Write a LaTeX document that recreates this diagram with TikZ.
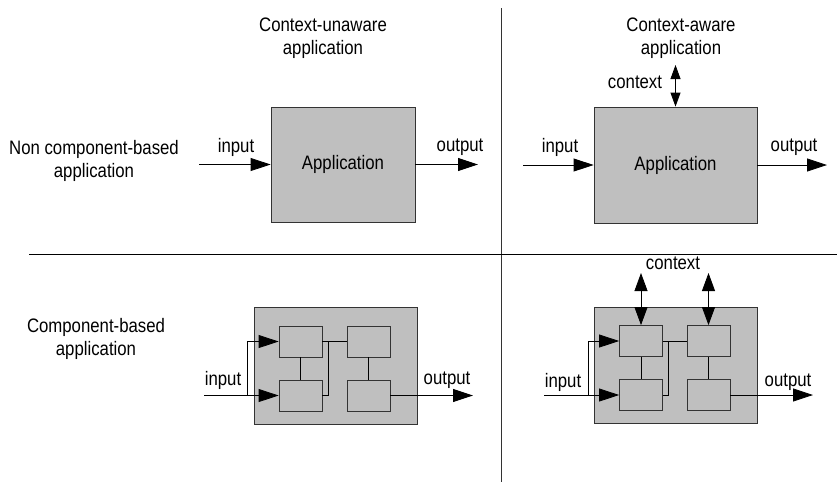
\documentclass[tikz,border=0pt]{standalone}
\usepackage{fontspec}
\setmainfont{Liberation Sans}[FakeStretch=0.86]
\usetikzlibrary{arrows.meta}
\tikzset{
  every node/.style={font=\fontsize{19.5}{23}\selectfont},
  bigbox/.style={draw=black!80, fill=black!25, line width=0.8pt, rectangle, inner sep=0pt},
  smallbox/.style={draw=black!80, fill=black!25, line width=0.8pt, rectangle, inner sep=0pt, minimum width=43pt, minimum height=31pt},
  conn/.style={draw=black, line width=0.8pt},
  arr/.style={conn, -{Triangle[length=20pt,width=13pt]}},
  ctxsmall/.style={conn, {Triangle[length=14pt,width=10pt]}-{Triangle[length=14pt,width=10pt]}},
  ctxbig/.style={conn, {Triangle[length=18pt,width=13pt]}-{Triangle[length=18pt,width=13pt]}},
  lbl/.style={inner sep=0pt, align=center},
  divider/.style={line width=1pt}
}
\begin{document}
\begin{tikzpicture}[x=1pt,y=-1pt]
\useasboundingbox (0,0) rectangle (837,483);
% dividers
\coordinate (vt) at (501,8);
\coordinate (vb) at (501,482);
\coordinate (hl) at (29,254);
\coordinate (hr) at (837,254);
\draw[divider, black!80] (vt) -- (vb);
\draw[divider] (hl) -- (hr);
% headings
\node[lbl] (h1) at (323,38) {Context-unaware\\application};
\node[lbl] (h2) at (681,38) {Context-aware\\application};
\node[lbl] (r1) at (94,161) {Non component-based\\application};
\node[lbl] (r2) at (96,339) {Component-based\\application};

% top-left
\node[bigbox, minimum width=144pt, minimum height=115pt] (app1) at (343,164.5) {Application};
\coordinate (in1) at (199,164.5);
\coordinate (out1) at (478,164.5);
\draw[arr] (in1) -- (app1.west);
\draw[arr] (app1.east) -- (out1);
\node[lbl] (li1) at (236,147) {input};
\node[lbl] (lo1) at (460,147) {output};

% top-right
\node[bigbox, minimum width=163pt, minimum height=116pt] (app2) at (675.5,165) {Application};
\coordinate (in2) at (523,165);
\coordinate (out2) at (827,165);
\coordinate (ctx2) at (675.5,65);
\draw[arr] (in2) -- (app2.west);
\draw[arr] (app2.east) -- (out2);
\draw[ctxsmall] (ctx2) -- (app2.north);
\node[lbl] (li2) at (560,147) {input};
\node[lbl] (lo2) at (794,147) {output};
\node[lbl] (lc2) at (635,82) {context};

% bottom-left
\node[bigbox, minimum width=163pt, minimum height=117pt] (big1) at (335.5,365.5) {};
\node[smallbox] (tl1) at (300.5,341.5) {};
\node[smallbox] (bl1) at (300.5,395.5) {};
\node[smallbox] (tr1) at (368.5,341.5) {};
\node[smallbox] (br1) at (368.5,395.5) {};
\coordinate (in3) at (204,395.5);
\coordinate (br3) at (247,395.5);
\coordinate (jn3) at (328,341.5);
\coordinate (out3) at (473,395.5);
\draw[arr] (in3) -- (bl1.west);
\draw[arr] (br3) |- (tl1.west);
\draw[conn] (tl1.east) -- (tr1.west);
\draw[conn] (bl1.east) -| (jn3);
\draw[conn] (tl1.south) -- (bl1.north);
\draw[conn] (tr1.south) -- (br1.north);
\draw[arr] (br1.east) -- (out3);
\node[lbl] (li3) at (223,380) {input};
\node[lbl] (lo3) at (447,380) {output};

% bottom-right
\node[bigbox, minimum width=163pt, minimum height=116pt] (big2) at (675.5,365) {};
\node[smallbox] (tl2) at (641,341) {};
\node[smallbox] (bl2) at (641,395) {};
\node[smallbox] (tr2) at (708.5,341) {};
\node[smallbox] (br2) at (708.5,395) {};
\coordinate (in4) at (544,395);
\coordinate (br4) at (588,395);
\coordinate (jn4) at (668,341);
\coordinate (out4) at (813,395);
\coordinate (ca) at (641,273);
\coordinate (cb) at (708.5,273);
\draw[arr] (in4) -- (bl2.west);
\draw[arr] (br4) |- (tl2.west);
\draw[conn] (tl2.east) -- (tr2.west);
\draw[conn] (bl2.east) -| (jn4);
\draw[conn] (tl2.south) -- (bl2.north);
\draw[conn] (tr2.south) -- (br2.north);
\draw[arr] (br2.east) -- (out4);
\draw[ctxbig] (ca) -- (tl2.north);
\draw[ctxbig] (cb) -- (tr2.north);
\node[lbl] (li4) at (563,382) {input};
\node[lbl] (lo4) at (788,382) {output};
\node[lbl] (lc4) at (673,263) {context};
\end{tikzpicture}
\end{document}
